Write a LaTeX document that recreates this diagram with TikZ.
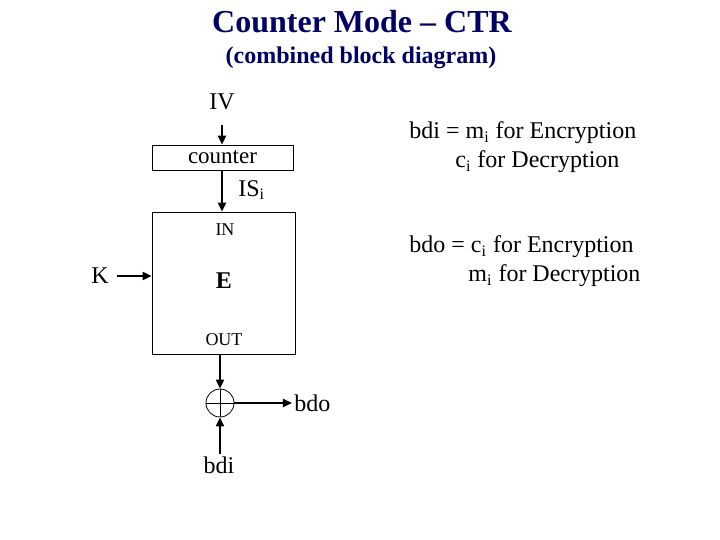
\documentclass[tikz,border=0pt]{standalone}
\usepackage{fontspec}
\setmainfont{Liberation Serif}
\usetikzlibrary{arrows.meta}
\definecolor{titleblue}{RGB}{0,0,102}
\tikzset{
  blockbox/.style={draw,thin,inner sep=0pt},
  arr/.style={line width=1pt,-{Triangle[length=4.5pt,width=4pt]}},
  lbl/.style={inner sep=1pt,font=\fontsize{12}{14}\selectfont}
}
\begin{document}
\begin{tikzpicture}[x=0.5pt,y=-0.5pt]
\useasboundingbox (0,0) rectangle (720,540);
% titles
	\node[titleblue,font=\fontsize{16}{18}\selectfont\bfseries] (title) at (362,22) {Counter Mode -- CTR};
	\node[titleblue,font=\fontsize{12}{14}\selectfont\bfseries] (subtitle) at (361,58) {(combined block diagram)};

% blocks
	\node[lbl] (iv) at (222,102) {IV};
	\node[blockbox,minimum width=70.5pt,minimum height=12.5pt,font=\fontsize{11.5}{13}\selectfont] (counter) at (222.5,157.5) {counter};
	\node[blockbox,minimum width=71.5pt,minimum height=71pt] (ebox) at (223.5,283) {};
	\node[inner sep=0pt,font=\fontsize{9}{10}\selectfont] (in) at (225,230) {IN};
	\node[inner sep=0pt,font=\fontsize{12}{14}\selectfont\bfseries] (e) at (224,281) {E};
	\node[inner sep=0pt,font=\fontsize{9}{10}\selectfont] (out) at (224,340) {OUT};
	\node[lbl] (key) at (100,276) {K};
	\node[draw,thin,circle,minimum size=14pt,inner sep=0pt] (xor) at (220,403) {};
	\draw[thin] (xor.north) -- (xor.south) (xor.west) -- (xor.east);
	\node[lbl,anchor=west] (bdo) at (292,403) {bdo};
	\node[lbl] (bdi) at (219,465) {bdi};
	\node[lbl,anchor=west] (isi) at (236,190) {IS\textsubscript{i}};

% notes
	\node[lbl,anchor=west] (bdieq) at (407,133) {bdi = m\textsubscript{i} for Encryption};
	\node[lbl,anchor=west] (bdidec) at (453,162) {c\textsubscript{i} for Decryption};
	\node[lbl,anchor=west] (bdoeq) at (407,247) {bdo = c\textsubscript{i} for Encryption};
	\node[lbl,anchor=west] (bdodec) at (466,276) {m\textsubscript{i} for Decryption};

%Links
	\draw[arr] (iv.south |- 0,125) -- (iv.south |- counter.north);
	\draw[arr] (counter.south -| iv.south) -- (ebox.north -| iv.south);
	\draw[arr] (key.east) ++(6,0) -- (ebox.west |- key.east);
	\draw[arr] (ebox.south -| xor.north) -- (xor.north);
	\draw[arr] (xor.east) -- (bdo.west);
	\draw[arr] (xor.south |- bdi.north) -- (xor.south);
\end{tikzpicture}
\end{document}
